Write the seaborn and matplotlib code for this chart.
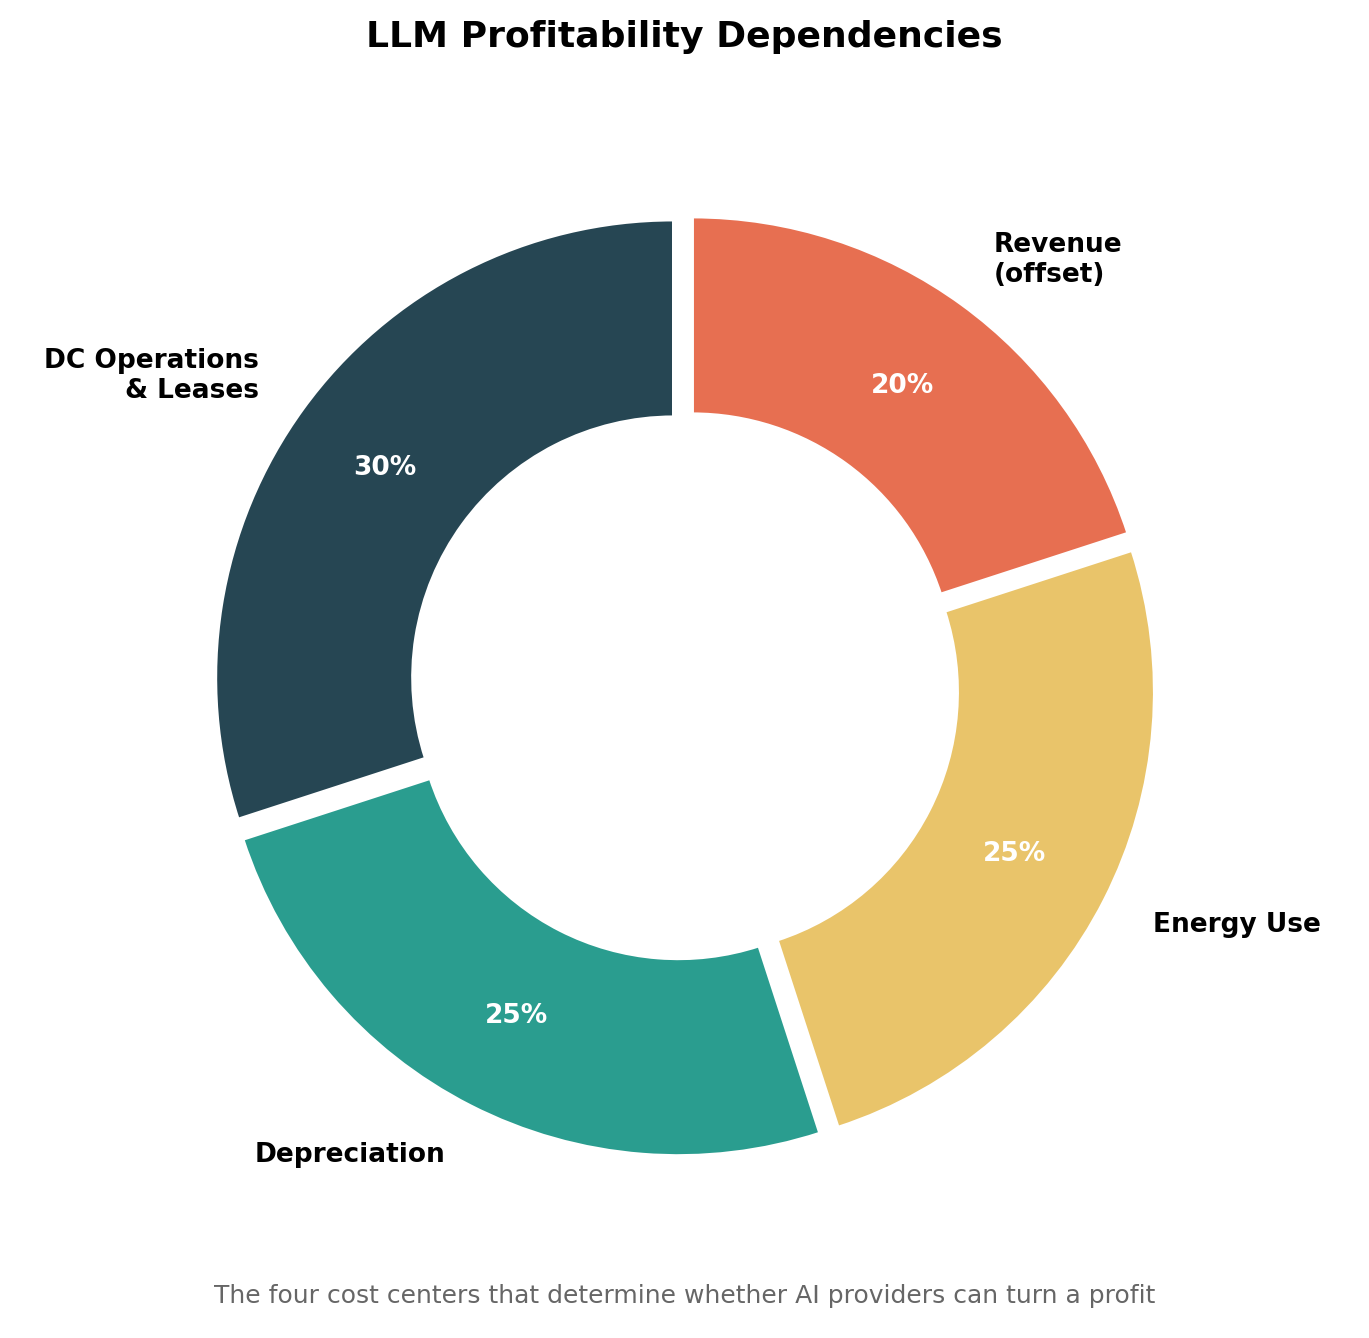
import matplotlib.pyplot as plt
import seaborn as sns

sns.set_style('white')
plt.rcParams['font.family'] = ['DejaVu Sans']
plt.rcParams['text.color'] = 'black'

labels = ['DC Operations\n& Leases', 'Depreciation', 'Energy Use', 'Revenue\n(offset)']
shares = [30, 25, 25, 20]
colors = ['#264653', '#2a9d8f', '#e9c46a', '#e76f51']

fig, ax = plt.subplots(figsize=(13.69, 13.38), dpi=100)

wedges, texts, autotexts = ax.pie(
    shares, labels=labels, colors=colors, startangle=90,
    explode=[0.03] * 4, autopct='%1.0f%%', pctdistance=0.78,
    labeldistance=1.12,
    wedgeprops=dict(width=0.43, edgecolor='white', linewidth=2),
    textprops=dict(fontsize=19, fontweight='bold', color='black'))

for t in autotexts:
    t.set_color('white')
    t.set_fontsize(19)

ax.set_aspect('equal')
fig.text(0.5, 0.972, 'LLM Profitability Dependencies', ha='center', va='center',
         fontsize=26, fontweight='bold', color='black')
fig.text(0.5, 0.026, 'The four cost centers that determine whether AI providers can turn a profit',
         ha='center', fontsize=18, color='#666666')
plt.subplots_adjust(left=0.05, right=0.95, top=0.915, bottom=0.06)
plt.savefig('out.png', dpi=100)
